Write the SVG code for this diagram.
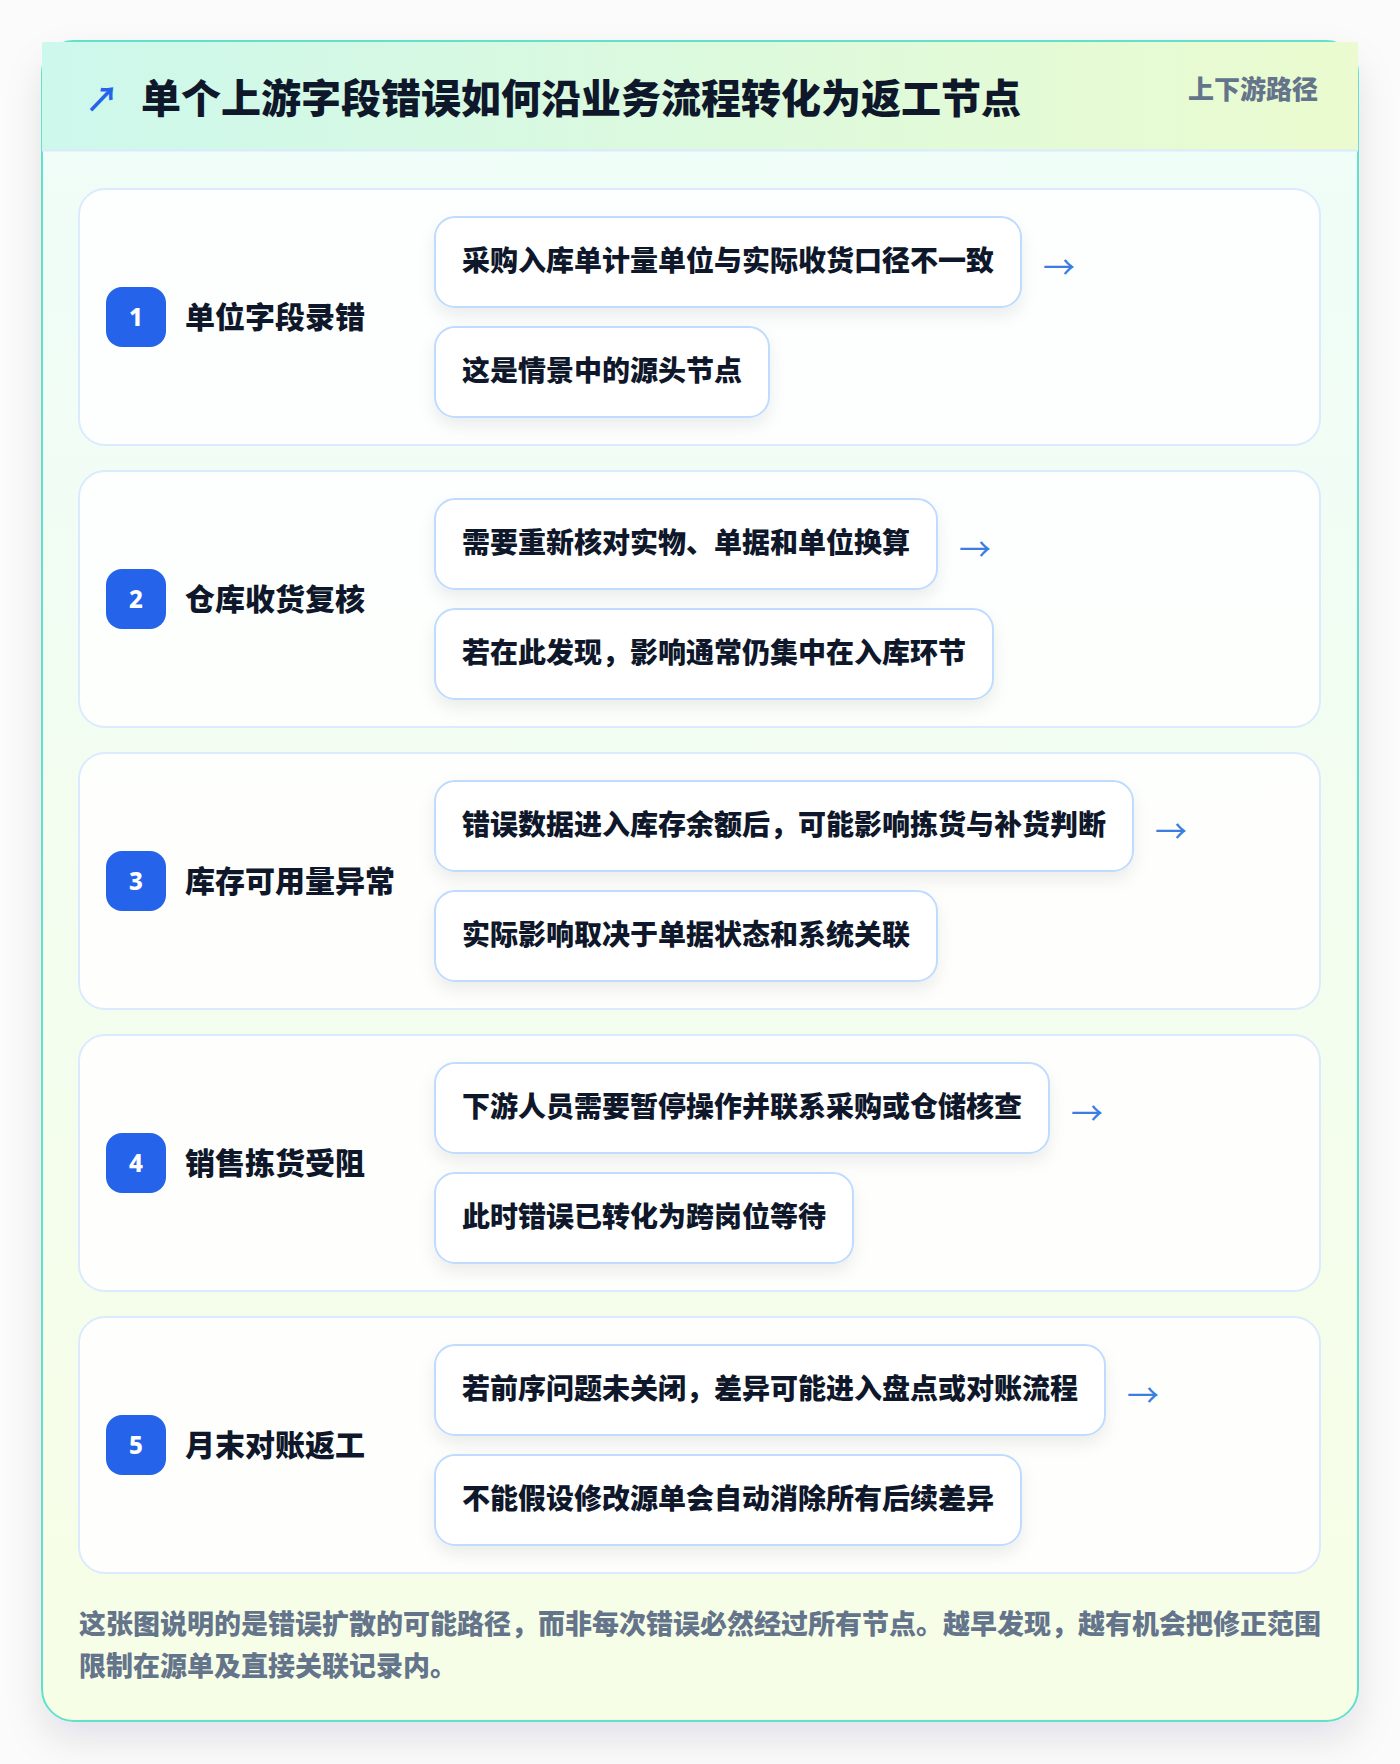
<svg xmlns="http://www.w3.org/2000/svg" width="1400" height="1764" viewBox="0 0 1400 1764">
<defs>
<linearGradient id="hdr" x1="0" y1="0" x2="1" y2="0">
<stop offset="0" stop-color="#cdf8ec"/>
<stop offset="1" stop-color="#ebfbcf"/>
</linearGradient>
<linearGradient id="body" x1="0" y1="0" x2="0" y2="1">
<stop offset="0" stop-color="#effdf9"/>
<stop offset="1" stop-color="#f7fee6"/>
</linearGradient>
<filter id="cardShadow" x="-10%" y="-10%" width="120%" height="120%">
<feDropShadow dx="0" dy="18" stdDeviation="18" flood-color="#0f172a" flood-opacity="0.10"/>
</filter>
<filter id="boxShadow" x="-10%" y="-20%" width="120%" height="160%">
<feDropShadow dx="0" dy="8" stdDeviation="8" flood-color="#0f172a" flood-opacity="0.07"/>
</filter>
<style>
text{font-family:"Noto Sans CJK SC","Noto Sans",sans-serif;}
.row{fill:#ffffff;fill-opacity:0.85;stroke:#dbeafe;stroke-width:2;}
.badge{fill:#2563eb;}
.num{fill:#ffffff;font-size:24px;font-weight:800;text-anchor:middle;dominant-baseline:central;font-family:"Noto Sans","Noto Sans CJK SC",sans-serif;}
.lbl{fill:#0f172a;font-size:30px;font-weight:800;dominant-baseline:central;}
.box{fill:#ffffff;stroke:#bfdbfe;stroke-width:2;}
.itx{fill:#0f172a;font-size:28px;font-weight:800;dominant-baseline:central;}
.arr{fill:#3b7de0;font-size:32px;dominant-baseline:central;}
.foot{fill:#64748b;font-size:27px;font-weight:800;dominant-baseline:central;}
</style>
</defs>
<rect x="0" y="0" width="1400" height="1764" fill="#fbfbfc"/>
<g id="card">
<rect x="42" y="41" width="1316" height="1680" rx="32" fill="url(#body)" stroke="#62e0cc" stroke-width="2" filter="url(#cardShadow)"/>
<rect x="42" y="42" width="1316" height="108" fill="url(#hdr)"/>
<line x1="42" y1="150.5" x2="1358" y2="150.5" stroke="#dbeafe" stroke-width="2"/>
</g>
<g id="header">
<text x="102" y="97" fill="#2563eb" font-size="34" font-weight="700" text-anchor="middle" dominant-baseline="central">↗</text>
<text x="141" y="96" fill="#0f172a" font-size="40" font-weight="900" dominant-baseline="central">单个上游字段错误如何沿业务流程转化为返工节点</text>
<text x="1318" y="87" fill="#64748b" font-size="26" font-weight="800" text-anchor="end" dominant-baseline="central">上下游路径</text>
</g>
<g id="step1">
<rect class="row" x="79" y="189" width="1241" height="256" rx="26"/>
<rect class="badge" x="106" y="287" width="60" height="60" rx="16"/>
<text class="num" x="136" y="316">1</text>
<text class="lbl" x="185" y="315">单位字段录错</text>
<rect class="box" x="435" y="217" width="586" height="90" rx="20" filter="url(#boxShadow)"/>
<text class="itx" x="462" y="259">采购入库单计量单位与实际收货口径不一致</text>
<rect class="box" x="435" y="327" width="334" height="90" rx="20" filter="url(#boxShadow)"/>
<text class="itx" x="462" y="369">这是情景中的源头节点</text>
</g>
<g id="step2">
<rect class="row" x="79" y="471" width="1241" height="256" rx="26"/>
<rect class="badge" x="106" y="569" width="60" height="60" rx="16"/>
<text class="num" x="136" y="598">2</text>
<text class="lbl" x="185" y="597">仓库收货复核</text>
<rect class="box" x="435" y="499" width="502" height="90" rx="20" filter="url(#boxShadow)"/>
<text class="itx" x="462" y="541">需要重新核对实物、单据和单位换算</text>
<rect class="box" x="435" y="609" width="558" height="90" rx="20" filter="url(#boxShadow)"/>
<text class="itx" x="462" y="651">若在此发现，影响通常仍集中在入库环节</text>
</g>
<g id="step3">
<rect class="row" x="79" y="753" width="1241" height="256" rx="26"/>
<rect class="badge" x="106" y="851" width="60" height="60" rx="16"/>
<text class="num" x="136" y="880">3</text>
<text class="lbl" x="185" y="879">库存可用量异常</text>
<rect class="box" x="435" y="781" width="698" height="90" rx="20" filter="url(#boxShadow)"/>
<text class="itx" x="462" y="823">错误数据进入库存余额后，可能影响拣货与补货判断</text>
<rect class="box" x="435" y="891" width="502" height="90" rx="20" filter="url(#boxShadow)"/>
<text class="itx" x="462" y="933">实际影响取决于单据状态和系统关联</text>
</g>
<g id="step4">
<rect class="row" x="79" y="1035" width="1241" height="256" rx="26"/>
<rect class="badge" x="106" y="1133" width="60" height="60" rx="16"/>
<text class="num" x="136" y="1162">4</text>
<text class="lbl" x="185" y="1161">销售拣货受阻</text>
<rect class="box" x="435" y="1063" width="614" height="90" rx="20" filter="url(#boxShadow)"/>
<text class="itx" x="462" y="1105">下游人员需要暂停操作并联系采购或仓储核查</text>
<rect class="box" x="435" y="1173" width="418" height="90" rx="20" filter="url(#boxShadow)"/>
<text class="itx" x="462" y="1215">此时错误已转化为跨岗位等待</text>
</g>
<g id="step5">
<rect class="row" x="79" y="1317" width="1241" height="256" rx="26"/>
<rect class="badge" x="106" y="1415" width="60" height="60" rx="16"/>
<text class="num" x="136" y="1444">5</text>
<text class="lbl" x="185" y="1443">月末对账返工</text>
<rect class="box" x="435" y="1345" width="670" height="90" rx="20" filter="url(#boxShadow)"/>
<text class="itx" x="462" y="1387">若前序问题未关闭，差异可能进入盘点或对账流程</text>
<rect class="box" x="435" y="1455" width="586" height="90" rx="20" filter="url(#boxShadow)"/>
<text class="itx" x="462" y="1497">不能假设修改源单会自动消除所有后续差异</text>
</g>
<g id="connectors">
<text class="arr" x="1043" y="265">→</text>
<text class="arr" x="959" y="547">→</text>
<text class="arr" x="1155" y="829">→</text>
<text class="arr" x="1071" y="1111">→</text>
<text class="arr" x="1127" y="1393">→</text>
</g>
<g id="footer">
<text class="foot" x="79" y="1622">这张图说明的是错误扩散的可能路径，而非每次错误必然经过所有节点。越早发现，越有机会把修正范围</text>
<text class="foot" x="79" y="1664">限制在源单及直接关联记录内。</text>
</g>
</svg>
